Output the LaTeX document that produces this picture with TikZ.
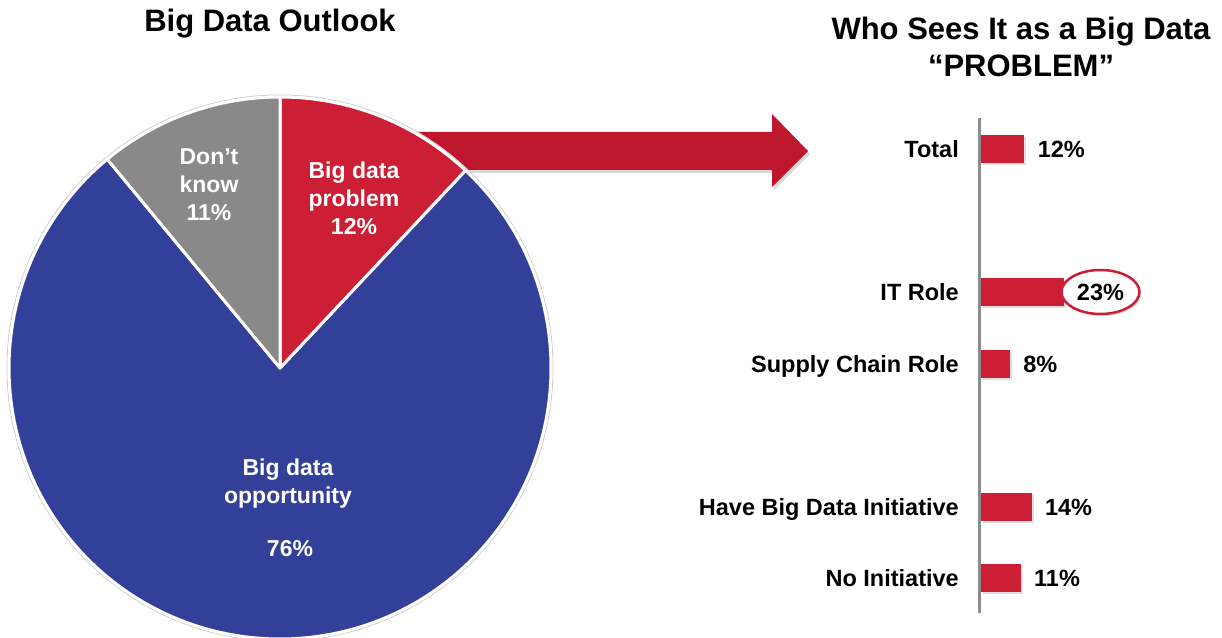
\documentclass[tikz,border=0pt]{standalone}
\usepackage{fontspec}
\setmainfont{Liberation Sans}
\usepackage{xcolor}
\usepackage{tikz}
\usetikzlibrary{shapes.geometric, shadows, positioning}
\definecolor{pieRed}{RGB}{204,30,52}
\definecolor{arrowRed}{RGB}{190,22,45}
\definecolor{pieBlue}{RGB}{51,64,153}
\definecolor{pieGray}{RGB}{137,137,137}
\definecolor{axisGray}{RGB}{140,140,140}
\tikzstyle{title} = [inner sep=0pt,font=\fontsize{31}{37}\selectfont\bfseries]
\tikzstyle{slicetext} = [inner sep=0pt,white,align=center,font=\fontsize{23}{28}\selectfont\bfseries]
\tikzstyle{bar} = [fill=pieRed,anchor=west,inner sep=0pt,minimum height=28pt,drop shadow={opacity=0.25,shadow xshift=2pt,shadow yshift=-2pt}]
\tikzstyle{catlabel} = [inner sep=0pt,text height=17pt,text depth=0pt,font=\fontsize{23.5}{28}\selectfont\bfseries]

\begin{document}
\begin{tikzpicture}[x=1pt,y=1pt]
	\useasboundingbox (0,0) rectangle (1222,637);
	\begin{scope}[node distance=13pt]
		
		% Titles:
		\node[title] (outlook) at (270,613) {Big Data Outlook};
		\node[title,align=center] (who) at (1021,590) {Who Sees It as a Big Data\\“PROBLEM”};
		
		% Arrow from the pie to the bars (drawn first, the pie covers its tail):
		\fill[arrowRed,drop shadow={opacity=0.3,shadow xshift=2pt,shadow yshift=-3pt}]
			(400,467) -- (772,467) -- (772,450) -- (808,486) -- (772,523) -- (772,505) -- (400,505) -- cycle;
		
		% Pie:
		% slices go clockwise from the top, white lines between them
		\coordinate (c) at (280,269);
		\draw[gray!35,line width=1pt] (c) circle (273);
		\foreach \a/\b/\col in {46.8/-230.4/pieBlue, 90/46.8/pieRed, 129.6/90/pieGray}
			\filldraw[fill=\col,draw=white,line width=3pt,line join=round] (c) -- ++(\a:271) arc (\a:\b:271) -- cycle;
		
		\node[slicetext] (dontknow) at (209,452) {Don’t\\know\\11\%};
		\node[slicetext] (problem) at (354,439) {Big data\\problem\\12\%};
		\node[slicetext] (opportunity) at (288,153) {Big data\\opportunity};
		\node[slicetext] (opppct) at (290,88) {76\%};
		
		% Bars:
		\draw[axisGray,line width=3pt] (979,519) -- (979,24);
		\foreach \lab/\val/\yy/\nm in {Total/12/488/tot, IT Role/23/345/it, Supply Chain Role/8/273/sup, Have Big Data Initiative/14/130/have, No Initiative/11/59/no}{
			\node[bar,minimum width={\val*3.6pt}] (b\nm) at (981,\yy) {};
			\node[catlabel,left=22pt of b\nm] (l\nm) {\lab};
		}
		\foreach \val/\nm in {12/tot, 8/sup, 14/have, 11/no}
			\node[catlabel,right=of b\nm] (p\nm) {\val\%};
		
		% the IT value is circled
		\node[ellipse,draw=pieRed,line width=2.5pt,fill=white,minimum width=78pt,minimum height=44pt,inner sep=0pt,
			drop shadow={opacity=0.25,shadow xshift=2pt,shadow yshift=-2pt},font=\fontsize{23.5}{28}\selectfont\bfseries,
			right=-4pt of bit] (pit) {23\%};
		
	\end{scope}
\end{tikzpicture}
\end{document}
